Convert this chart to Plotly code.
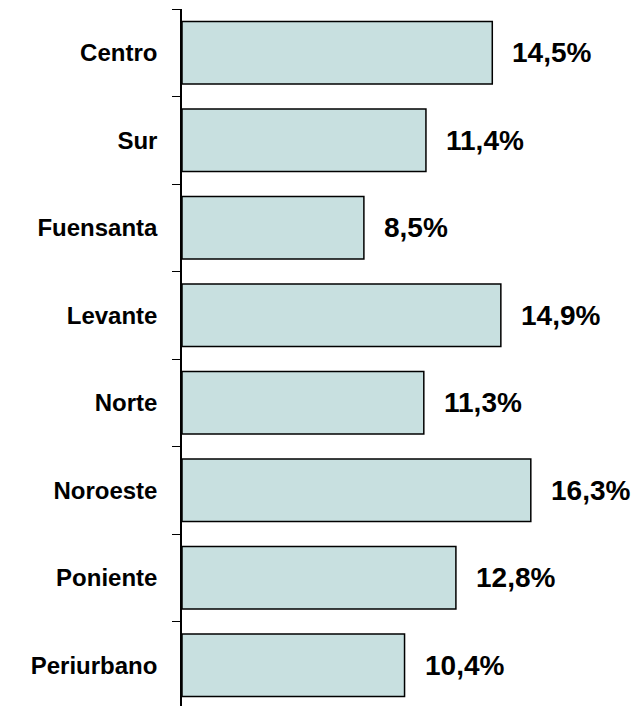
import plotly.graph_objects as go

categories = ["Centro", "Sur", "Fuensanta", "Levante", "Norte", "Noroeste", "Poniente", "Periurbano"]
values = [14.5, 11.4, 8.5, 14.9, 11.3, 16.3, 12.8, 10.4]
labels = ["14,5%", "11,4%", "8,5%", "14,9%", "11,3%", "16,3%", "12,8%", "10,4%"]

FONT = "Arial, Liberation Sans, sans-serif"

fig = go.Figure()
fig.add_trace(go.Bar(
    x=values, y=categories, orientation="h",
    marker=dict(color="#C8E0E0", line=dict(color="#000000", width=1.5)),
    hoverinfo="skip",
))

for c, v, t in zip(categories, values, labels):
    fig.add_annotation(x=v, y=c, text=t, showarrow=False, xanchor="left",
                       xshift=18, yshift=0,
                       font=dict(family=FONT, size=28, color="#000000", weight="bold"))

fig.update_layout(
    width=642, height=706,
    margin=dict(l=174, r=0, t=1, b=0),
    paper_bgcolor="white", plot_bgcolor="white",
    bargap=0.287,
    showlegend=False,
    font=dict(family=FONT, color="#000000"),
)
fig.update_xaxes(range=[0, 21.87], visible=False, showgrid=False, zeroline=False)
fig.update_yaxes(
    type="category", categoryorder="array", categoryarray=categories,
    range=[7.557, -0.5], autorange=False,
    showline=True, linecolor="#000000", linewidth=1.5,
    ticks="outside", tickson="boundaries", ticklen=8, tickcolor="#000000", tickwidth=1,
    ticklabelstandoff=18,
    tickfont=dict(family=FONT, size=24, color="#000000", weight="bold"),
    showgrid=False, zeroline=False,
)

fig.write_html("out.html")
